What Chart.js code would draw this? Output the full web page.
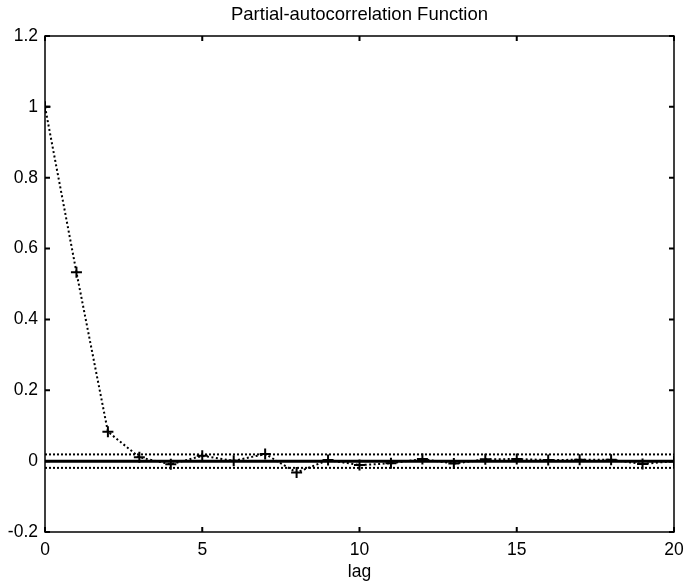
<!DOCTYPE html>
<html>
<head>
<meta charset="utf-8">
<script src="https://cdn.jsdelivr.net/npm/chart.js@4/dist/chart.umd.min.js"></script>
<style>
html,body{margin:0;padding:0;background:#fff;}
#wrap{width:686px;height:585px;}
</style>
</head>
<body>
<div id="wrap"><canvas id="c" width="686" height="585"></canvas></div>
<script>
const lags = [0,1,2,3,4,5,6,7,8,9,10,11,12,13,14,15,16,17,18,19,20];
const pacf = [1,0.533,0.083,0.011,-0.009,0.015,0.001,0.02,-0.032,0.003,-0.011,-0.006,0.006,-0.007,0.005,0.006,0.003,0.004,0.004,-0.008,0.0];
const boundX = [0,20];
const zeroLine = [0,0];
const upperBound = [0.019,0.019];
const lowerBound = [-0.019,-0.019];
const xTicks = [0,5,10,15,20];
const yTicks = [-0.2,0,0.2,0.4,0.6,0.8,1,1.2];

const FONT = "'Liberation Sans', Arial, Helvetica, sans-serif";

const boxTicks = {
  id:'boxTicks',
  afterLayout(chart){
    const t = chart.titleBlock, a = chart.chartArea;
    if (t) { t.left = a.left; t.right = a.right; t.width = a.right - a.left; }
  },
  afterDatasetsDraw(chart){
    const {ctx, chartArea:a, scales:{x,y}} = chart;
    ctx.save();
    ctx.strokeStyle='#000';
    ctx.lineWidth=1.5;
    ctx.strokeRect(a.left, a.top, a.right-a.left, a.bottom-a.top);
    ctx.lineWidth=2;
    const L=5;
    ctx.beginPath();
    xTicks.forEach(v=>{
      const px=x.getPixelForValue(v);
      ctx.moveTo(px,a.bottom); ctx.lineTo(px,a.bottom-L);
      ctx.moveTo(px,a.top); ctx.lineTo(px,a.top+L);
    });
    yTicks.forEach(v=>{
      const py=y.getPixelForValue(v);
      ctx.moveTo(a.left,py); ctx.lineTo(a.left+L,py);
      ctx.moveTo(a.right,py); ctx.lineTo(a.right-L,py);
    });
    ctx.stroke();
    ctx.restore();
  }
};

new Chart(document.getElementById('c'), {
  type:'line',
  data:{
    datasets:[
      {data: boundX.map((v,i)=>({x:v,y:zeroLine[i]})), borderColor:'#000', borderWidth:3, pointRadius:0, order:3},
      {data: boundX.map((v,i)=>({x:v,y:upperBound[i]})), borderColor:'#000', borderWidth:2, borderDash:[2,2], pointRadius:0, order:2},
      {data: boundX.map((v,i)=>({x:v,y:lowerBound[i]})), borderColor:'#000', borderWidth:2, borderDash:[2,2], pointRadius:0, order:2},
      {data: lags.map((v,i)=>({x:v,y:pacf[i]})), borderColor:'#000', borderWidth:2, borderDash:[2,2.5],
       pointStyle:'cross', pointRadius:5.5, pointBorderWidth:2, pointBorderColor:'#000', pointBackgroundColor:'#000', order:1}
    ]
  },
  options:{
    responsive:false,
    animation:false,
    devicePixelRatio:1,
    layout:{padding:{left:0,right:12,top:0,bottom:0}},
    plugins:{
      legend:{display:false},
      tooltip:{enabled:false},
      title:{display:true, text:'Partial-autocorrelation Function', color:'#000',
        font:{family:FONT, size:18.5, weight:'normal', lineHeight:1.2}, padding:{top:4,bottom:9.8}}
    },
    scales:{
      x:{type:'linear', min:0, max:20,
        afterBuildTicks(s){ s.ticks = xTicks.map(v=>({value:v})); },
        afterFit(s){ s.height = 53; s.paddingLeft = 0; s.paddingRight = 0; },
        grid:{display:false, drawTicks:false},
        border:{display:false},
        ticks:{color:'#000', font:{family:FONT,size:17.5}, padding:8, maxRotation:0,
          callback:(v)=>String(v)},
        title:{display:true, text:'lag', color:'#000', font:{family:FONT,size:17.5}, padding:{top:2,bottom:2}}
      },
      y:{type:'linear', min:-0.2, max:1.2,
        afterBuildTicks(s){ s.ticks = yTicks.map(v=>({value:v})); },
        afterFit(s){ s.width = 45; },
        grid:{display:false, drawTicks:false},
        border:{display:false},
        ticks:{color:'#000', font:{family:FONT,size:17.5}, padding:7,
          callback:(v)=>String(Math.round(v*10)/10)}
      }
    }
  },
  plugins:[boxTicks]
});
</script>
</body>
</html>
